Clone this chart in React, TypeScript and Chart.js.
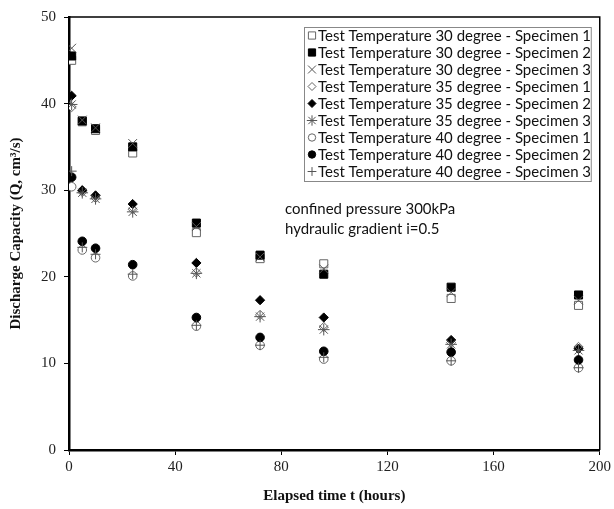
import React, { useEffect, useRef } from "react";
import { Chart, registerables } from "chart.js";
import { drawPoint } from "chart.js/helpers";

Chart.register(...registerables);

const times = [1, 5, 10, 24, 48, 72, 96, 144, 192];

const t30s1 = [45.0, 37.9, 36.9, 34.3, 25.1, 22.1, 21.5, 17.5, 16.7];
const t30s2 = [45.5, 38.0, 37.1, 35.0, 26.2, 22.5, 20.3, 18.8, 17.9];
const t30s3 = [46.4, 38.1, 37.2, 35.4, 25.8, 22.3, 20.9, 18.2, 17.3];
const t35s1 = [39.6, 29.8, 29.1, 27.8, 20.5, 15.6, 14.2, 12.4, 11.9];
const t35s2 = [40.9, 30.0, 29.4, 28.4, 21.6, 17.3, 15.3, 12.7, 11.7];
const t35s3 = [39.9, 29.7, 29.0, 27.5, 20.4, 15.4, 13.9, 12.2, 11.5];
const t40s1 = [30.4, 23.1, 22.2, 20.1, 14.3, 12.1, 10.5, 10.3, 9.5];
const t40s2 = [31.5, 24.1, 23.3, 21.4, 15.3, 13.0, 11.4, 11.3, 10.4];
const t40s3 = [32.2, 23.4, 22.6, 20.3, 14.4, 12.1, 10.7, 10.3, 9.5];

const seriesLabels = [
  "Test Temperature 30 degree - Specimen 1",
  "Test Temperature 30 degree - Specimen 2",
  "Test Temperature 30 degree - Specimen 3",
  "Test Temperature 35 degree - Specimen 1",
  "Test Temperature 35 degree - Specimen 2",
  "Test Temperature 35 degree - Specimen 3",
  "Test Temperature 40 degree - Specimen 1",
  "Test Temperature 40 degree - Specimen 2",
  "Test Temperature 40 degree - Specimen 3",
];

const seriesValues = [t30s1, t30s2, t30s3, t35s1, t35s2, t35s3, t40s1, t40s2, t40s3];

const xTicks = [0, 40, 80, 120, 160, 200];
const yTicks = [0, 10, 20, 30, 40, 50];

const annotationLines = ["confined pressure 300kPa", "hydraulic gradient i=0.5"];

const xTitle = "Elapsed time t (hours)";
const yTitle = "Discharge Capacity (Q, cm\u00b3/s)";

type MarkerStyle = {
  pointStyle: string;
  radius: number;
  fill: string;
  stroke: string;
  width: number;
};

const markerStyles: MarkerStyle[] = [
  { pointStyle: "rect", radius: 5.7, fill: "#ffffff", stroke: "#666666", width: 1 },
  { pointStyle: "rect", radius: 5.7, fill: "#000000", stroke: "#000000", width: 1 },
  { pointStyle: "crossRot", radius: 6.2, fill: "rgba(0,0,0,0)", stroke: "#555555", width: 1 },
  { pointStyle: "rectRot", radius: 4.6, fill: "#ffffff", stroke: "#666666", width: 1 },
  { pointStyle: "rectRot", radius: 4.6, fill: "#000000", stroke: "#000000", width: 1 },
  { pointStyle: "star", radius: 5.8, fill: "rgba(0,0,0,0)", stroke: "#555555", width: 1 },
  { pointStyle: "circle", radius: 4.3, fill: "#ffffff", stroke: "#666666", width: 1 },
  { pointStyle: "circle", radius: 4.3, fill: "#000000", stroke: "#000000", width: 1 },
  { pointStyle: "cross", radius: 5, fill: "rgba(0,0,0,0)", stroke: "#555555", width: 1 },
];

const TEXT_FONT = "Lato";

const framePlugin = {
  id: "frame",
  afterDraw(chart: any) {
    const { ctx, chartArea } = chart;
    ctx.save();
    ctx.strokeStyle = "#000";
    ctx.lineWidth = 1.5;
    ctx.beginPath();
    ctx.moveTo(chartArea.left, chartArea.top);
    ctx.lineTo(chartArea.right, chartArea.top);
    ctx.lineTo(chartArea.right, chartArea.bottom);
    ctx.stroke();
    ctx.restore();
  },
};

const legendPlugin = {
  id: "boxLegend",
  afterDraw(chart: any) {
    const { ctx, chartArea } = chart;
    const boxLeft = chartArea.left + 235;
    const boxTop = chartArea.top + 10;
    const boxRight = chartArea.right - 9;
    const rowH = 17;
    const boxBottom = boxTop + rowH * seriesLabels.length + 1;
    ctx.save();
    ctx.fillStyle = "#fff";
    ctx.fillRect(boxLeft, boxTop, boxRight - boxLeft, boxBottom - boxTop);
    ctx.strokeStyle = "#888";
    ctx.lineWidth = 1;
    ctx.strokeRect(boxLeft + 0.5, boxTop + 0.5, boxRight - boxLeft, boxBottom - boxTop);

    ctx.font = `15px ${TEXT_FONT}`;
    const natural = ctx.measureText(seriesLabels[0]).width;
    const targetW = 273;
    const sx = targetW / natural;

    seriesLabels.forEach((label, i) => {
      const cy = boxTop + 8.5 + i * rowH;
      const ms = markerStyles[i];
      ctx.fillStyle = ms.fill;
      ctx.strokeStyle = ms.stroke;
      ctx.lineWidth = ms.width;
      drawPoint(ctx, { pointStyle: ms.pointStyle, radius: ms.radius - 0.6, rotation: 0, borderWidth: ms.width } as any, boxLeft + 8, cy);
      ctx.save();
      ctx.translate(boxLeft + 14, cy);
      ctx.scale(sx, 1);
      ctx.fillStyle = "#111";
      ctx.textBaseline = "middle";
      ctx.textAlign = "left";
      ctx.fillText(label, 0, 1);
      ctx.restore();
    });

    // annotation text
    annotationLines.forEach((line, i) => {
      ctx.save();
      ctx.translate(chartArea.left + 216, chartArea.top + 192 + i * 20);
      ctx.scale(sx, 1);
      ctx.fillStyle = "#111";
      ctx.textBaseline = "middle";
      ctx.textAlign = "left";
      ctx.fillText(line, 0, 0);
      ctx.restore();
    });
    ctx.restore();
  },
};

export default function App() {
  const canvasRef = useRef<HTMLCanvasElement | null>(null);

  useEffect(() => {
    document.body.style.margin = "0";
    const canvas = canvasRef.current;
    if (!canvas) return;

    const datasets = seriesValues.map((vals, i) => {
      const ms = markerStyles[i];
      return {
        label: seriesLabels[i],
        data: times.map((t, j) => ({ x: t, y: vals[j] })),
        showLine: false,
        pointStyle: ms.pointStyle,
        pointRadius: ms.radius,
        pointBackgroundColor: ms.fill,
        pointBorderColor: ms.stroke,
        pointBorderWidth: ms.width,
        order: seriesValues.length - i,
      };
    });

    const tickFont = { family: "Liberation Serif", size: 15 };
    const titleFont = { family: "Liberation Serif", size: 15, weight: "bold" as const };

    const chart = new Chart(canvas, {
      type: "scatter",
      data: { datasets: datasets as any },
      plugins: [framePlugin, legendPlugin],
      options: {
        animation: false,
        responsive: false,
        maintainAspectRatio: false,
        layout: { padding: { left: 0, top: 13, right: 11, bottom: 0 } },
        plugins: {
          legend: { display: false },
          tooltip: { enabled: false },
        },
        scales: {
          x: {
            type: "linear",
            min: 0,
            max: 200,
            afterBuildTicks: (scale: any) => {
              scale.ticks = xTicks.map((v) => ({ value: v }));
            },
            afterFit: (scale: any) => {
              scale.height = 59;
            },
            ticks: { font: tickFont, color: "#222", padding: 3, maxRotation: 0 },
            grid: {
              display: true,
              drawOnChartArea: false,
              drawTicks: true,
              tickLength: 5,
              tickColor: "#000",
              tickWidth: 1,
            },
            border: { display: true, color: "#000", width: 2.5 },
            title: {
              display: true,
              text: xTitle,
              font: titleFont,
              color: "#111",
              padding: { top: 0, bottom: 4 },
            },
          },
          y: {
            type: "linear",
            min: 0,
            max: 50,
            afterBuildTicks: (scale: any) => {
              scale.ticks = yTicks.map((v) => ({ value: v }));
            },
            afterFit: (scale: any) => {
              scale.width = 69;
            },
            ticks: { font: tickFont, color: "#222", padding: 8 },
            grid: {
              display: true,
              drawOnChartArea: false,
              drawTicks: true,
              tickLength: 5,
              tickColor: "#000",
              tickWidth: 1,
            },
            border: { display: true, color: "#000", width: 2.5 },
            title: {
              display: true,
              text: yTitle,
              font: titleFont,
              color: "#111",
              padding: { top: 7, bottom: 0 },
            },
          },
        },
      } as any,
    });

    return () => {
      chart.destroy();
    };
  }, []);

  return (
    <div style={{ width: 614, height: 509, background: "#fff" }}>
      <canvas ref={canvasRef} width={614} height={509} style={{ display: "block" }} />
    </div>
  );
}
